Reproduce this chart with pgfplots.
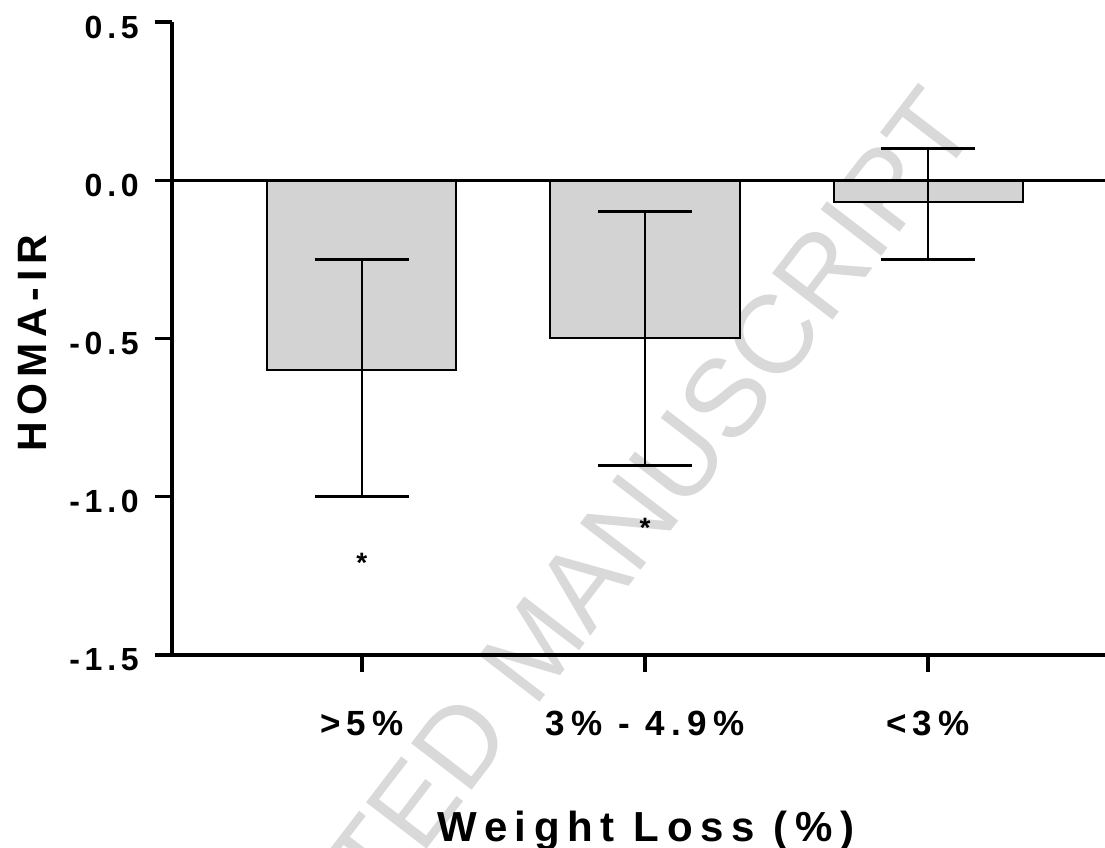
\documentclass[border=0pt]{standalone}
\usepackage{pgfplots}
\pgfplotsset{compat=1.18}
\usepackage{fontspec}
\setmainfont{Liberation Sans}
\newfontfamily\tickf[LetterSpace=15]{Liberation Sans}
\newfontfamily\xtickf[LetterSpace=18]{Liberation Sans}
\newfontfamily\labf[LetterSpace=18]{Liberation Sans}
\newfontfamily\ylabf[LetterSpace=15]{Liberation Sans}
\definecolor{barfill}{RGB}{211,211,211}
\definecolor{wm}{RGB}{217,217,217}
\begin{document}
\begin{tikzpicture}
\path[use as bounding box] (-172pt,-193pt) rectangle (933pt,655pt);
\node[rotate=52.5, text=wm, font=\fontsize{111}{120}\selectfont] at (362pt,8pt) {ACCEPTED MANUSCRIPT};
\begin{axis}[
  at={(0pt,0pt)}, anchor=south west,
  scale only axis, width=933pt, height=633pt,
  xmin=-0.671, xmax=2.625, ymin=-1.5, ymax=0.5,
  axis x line*=bottom, axis y line*=left,
  axis line style={line width=3.2pt, black},
  xtick={0,1,2},
  xticklabels={{>5\%},{3\% - 4.9\%},{<3\%}},
  ytick={-1.5,-1,-0.5,0,0.5},
  yticklabels={{-1.5},{-1.0},{-0.5},{0.0},{0.5}},
  tick align=outside, major tick length=17pt,
  tick style={line width=3.2pt, black},
  xticklabel style={font=\xtickf\bfseries\fontsize{35}{42}\selectfont, anchor=base, inner sep=0pt, yshift=-63pt},
  yticklabel style={font=\tickf\bfseries\fontsize{32}{38}\selectfont, anchor=east, inner sep=0pt, xshift=-16pt, yshift=-5pt},
  xlabel={Weight Loss (\%)},
  ylabel={HOMA-IR},
  xlabel style={font=\labf\bfseries\fontsize{42}{50}\selectfont, at={(axis description cs:0.508,-0.294)}, anchor=base, inner sep=0pt},
  ylabel style={font=\ylabf\bfseries\fontsize{41}{50}\selectfont, at={(axis description cs:-0.134,0.493)}, anchor=base, inner sep=0pt},
  clip=false,
]
\addplot[ybar, bar width=0.668, fill=barfill, draw=black, line width=2pt,
  error bars/.cd, y dir=both, y explicit,
  error bar style={line width=2pt, black},
  error mark options={rotate=90, line width=3pt, black, mark size=47pt}]
  coordinates {
    (0,-0.60) += (0,0.35) -= (0,0.40)
    (1,-0.50) += (0,0.40) -= (0,0.40)
    (2,-0.07) += (0,0.17) -= (0,0.18)
  };
\addplot[line width=3.2pt, black, mark=none] coordinates {(-0.671,0) (2.625,0)};
\addplot[draw=none, mark=none, nodes near coords, point meta=explicit symbolic,
  nodes near coords align={center},
  every node near coord/.append style={font=\bfseries\fontsize{28}{34}\selectfont, anchor=center, inner sep=0pt, yshift=-6pt}]
  coordinates {(0,-1.19) [*] (1,-1.08) [*]};
\end{axis}
\end{tikzpicture}
\end{document}
